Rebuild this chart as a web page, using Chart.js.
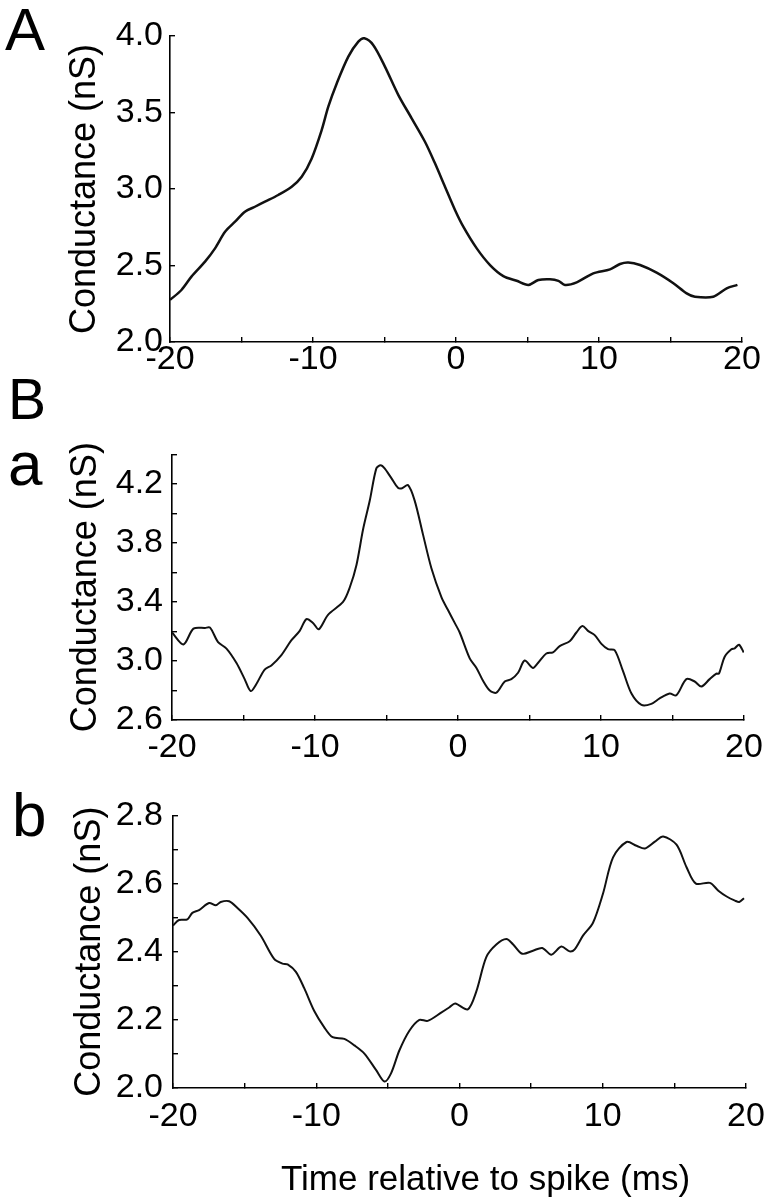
<!DOCTYPE html>
<html><head><meta charset="utf-8">
<script src="https://cdn.jsdelivr.net/npm/chart.js@4.4.1/dist/chart.umd.min.js"></script>
<style>
html,body{margin:0;padding:0;background:#fff;}
#wrap{position:relative;width:778px;height:1200px;background:#fff;}
canvas{position:absolute;left:0;}
</style></head><body>
<div id="wrap">
<canvas id="cA" width="778" height="420" style="top:0px"></canvas>
<canvas id="cBa" width="778" height="360" style="top:420px"></canvas>
<canvas id="cBb" width="778" height="420" style="top:780px"></canvas>
</div>
<script>
// ---- Panel A ----
const timeA = [-20.0,-19.2,-18.5,-17.55,-16.85,-16.15,-15.45,-14.76,-14.06,-13.36,-12.43,-11.49,-10.79,-10.09,-9.39,-8.93,-8.34,-7.53,-6.83,-6.41,-5.78,-4.97,-4.03,-3.10,-2.17,-1.47,-0.77,-0.07,0.51,1.45,2.38,3.31,4.24,5.06,5.76,6.57,7.16,7.62,8.44,9.60,10.77,11.47,12.05,12.87,14.03,15.20,16.13,16.71,17.99,18.93,19.68];
const condA = [2.275,2.34,2.427,2.525,2.612,2.72,2.786,2.852,2.884,2.917,2.961,3.015,3.08,3.20,3.386,3.538,3.69,3.865,3.963,3.985,3.94,3.80,3.614,3.462,3.309,3.168,3.015,2.863,2.754,2.612,2.503,2.431,2.40,2.373,2.405,2.41,2.40,2.373,2.39,2.449,2.475,2.51,2.52,2.503,2.453,2.384,2.318,2.296,2.296,2.351,2.373];

// ---- Panel B a ----
const timeBa = [-20.0,-19.2,-18.5,-17.69,-17.34,-16.78,-16.19,-15.49,-14.92,-14.5,-14.1,-13.52,-13.05,-12.35,-11.66,-11.07,-10.6,-10.14,-9.74,-9.09,-8.04,-7.57,-7.1,-6.64,-6.17,-5.71,-5.41,-5.13,-4.66,-4.2,-3.91,-3.5,-3.03,-2.45,-1.86,-1.16,-0.7,-0.23,0.12,0.82,1.29,1.75,2.22,2.69,3.27,3.73,4.2,4.66,5.24,5.59,6.18,6.64,7.11,7.81,8.28,8.7,9.09,9.56,10.03,10.49,10.96,11.54,12.13,12.83,13.52,14.1,14.8,15.27,15.97,16.55,17.02,17.6,18.07,18.25,18.65,19.12,19.35,19.65,19.98];
const condBa = [3.193,3.112,3.219,3.224,3.226,3.128,3.084,2.986,2.877,2.796,2.844,2.942,2.97,3.04,3.139,3.204,3.284,3.258,3.215,3.313,3.40,3.498,3.651,3.891,4.087,4.305,4.326,4.305,4.239,4.174,4.17,4.192,4.087,3.858,3.629,3.433,3.345,3.258,3.193,3.018,2.953,2.866,2.80,2.785,2.861,2.877,2.92,3.003,2.953,2.986,3.051,3.058,3.101,3.134,3.193,3.237,3.204,3.175,3.116,3.08,3.073,2.931,2.779,2.702,2.709,2.746,2.779,2.768,2.877,2.861,2.827,2.877,2.914,2.914,3.029,3.08,3.086,3.11,3.058];

// ---- Panel B b ----
const timeBb = [-20.0,-19.58,-19.0,-18.65,-18.18,-17.48,-17.01,-16.67,-16.08,-15.5,-14.8,-13.87,-12.94,-12.36,-12.0,-11.42,-10.84,-10.14,-9.44,-8.86,-8.04,-7.34,-6.64,-5.83,-5.24,-4.78,-4.2,-3.5,-2.8,-2.22,-1.28,-0.7,-0.3,0.58,1.17,1.87,2.57,3.27,3.73,4.38,5.13,5.78,6.41,7.11,7.69,8.04,8.62,9.32,10.02,10.72,11.66,12.36,12.94,13.64,14.22,15.15,15.85,16.5,17.48,18.07,18.65,19.23,19.53,19.86];
const condBb = [2.477,2.493,2.495,2.514,2.522,2.543,2.536,2.546,2.548,2.528,2.499,2.447,2.379,2.365,2.363,2.341,2.293,2.226,2.178,2.149,2.144,2.125,2.101,2.053,2.019,2.043,2.11,2.168,2.20,2.197,2.221,2.237,2.248,2.231,2.283,2.384,2.421,2.437,2.422,2.394,2.403,2.411,2.391,2.415,2.401,2.407,2.447,2.485,2.571,2.677,2.722,2.711,2.703,2.723,2.738,2.714,2.648,2.60,2.602,2.579,2.562,2.55,2.546,2.557];

// ---- tick labels ----
const xTickLabels = [-20, -10, 0, 10, 20];
const yTickLabelsA = [2.0, 2.5, 3.0, 3.5, 4.0];
const yTickLabelsBa = [2.6, 3.0, 3.4, 3.8, 4.2];
const yTickLabelsBb = [2.0, 2.2, 2.4, 2.6, 2.8];

const yTitle = 'Conductance (nS)';
const xTitle = 'Time relative to spike (ms)';

const FAMILY = '"Liberation Sans", Arial, Helvetica, sans-serif';

const textPlugin = {
  id: 'extraText',
  afterDraw(chart, args, opts) {
    const ctx = chart.ctx;
    (opts.items || []).forEach(it => {
      ctx.save();
      ctx.font = it.font;
      ctx.fillStyle = '#000';
      ctx.textAlign = it.align || 'left';
      ctx.textBaseline = 'alphabetic';
      ctx.fillText(it.text, it.x, it.y);
      ctx.restore();
    });
  }
};

function labelIn(list, v, fmt) {
  for (const l of list) { if (Math.abs(l - v) < 1e-6) return fmt(l); }
  return '';
}

function makeChart(id, xs, ys, cfg) {
  const pts = xs.map((x, i) => ({x: x, y: ys[i]}));
  return new Chart(document.getElementById(id), {
    type: 'line',
    data: { datasets: [{ data: pts, borderColor: '#111', borderWidth: cfg.lw, pointRadius: 0, tension: 0.3, fill: false }] },
    plugins: [textPlugin],
    options: {
      responsive: false, animation: false, devicePixelRatio: 1,
      events: [],
      layout: { padding: cfg.pad },
      plugins: { legend: { display: false }, tooltip: { enabled: false }, extraText: { items: cfg.texts } },
      scales: {
        x: {
          type: 'linear', min: -20, max: 20,
          afterFit: s => { s.height = cfg.xh; },
          border: { display: true, color: '#000', width: 1.6 },
          grid: { drawOnChartArea: false, drawTicks: true, tickLength: -5, color: '#000', lineWidth: 1.4 },
          ticks: { stepSize: 5, autoSkip: false, maxRotation: 0, padding: cfg.xpad, color: '#000',
                   font: { family: FAMILY, size: 34 },
                   callback: v => labelIn(xTickLabels, v, l => String(l)) },
          title: { display: false }
        },
        y: {
          type: 'linear', min: cfg.ymin, max: cfg.ymax,
          afterFit: s => { s.width = cfg.yw; },
          border: { display: true, color: '#000', width: 1.6 },
          grid: { drawOnChartArea: false, drawTicks: true, tickLength: -5, color: '#000', lineWidth: 1.4 },
          ticks: { stepSize: cfg.ystep, autoSkip: false, padding: cfg.ypad, color: '#000',
                   font: { family: FAMILY, size: 34 },
                   callback: v => labelIn(cfg.ylabels, v, l => l.toFixed(1)) },
          title: { display: true, text: yTitle, color: '#000', font: { family: FAMILY, size: 36 },
                   padding: { top: cfg.ytp, bottom: 0 } }
        }
      }
    }
  });
}

makeChart('cA', timeA, condA, {
  lw: 2.5, pad: { left: 0, right: 36, top: 36, bottom: 0 }, xh: 78, yw: 170,
  xpad: 2, ypad: 12, ymin: 2.0, ymax: 4.0, ystep: 0.5, ylabels: yTickLabelsA, ytp: 63,
  texts: [
    { text: 'A', x: 5, y: 50, font: '60px ' + FAMILY },
    { text: 'B', x: 8, y: 419, font: '57px ' + FAMILY }
  ]
});

makeChart('cBa', timeBa, condBa, {
  lw: 2, pad: { left: 0, right: 34, top: 25, bottom: 0 }, xh: 60, yw: 172,
  xpad: 12, ypad: 14, ymin: 2.6, ymax: 4.4, ystep: 0.2, ylabels: yTickLabelsBa, ytp: 64,
  texts: [
    { text: 'a', x: 8, y: 65, font: '62px ' + FAMILY }
  ]
});

makeChart('cBb', timeBb, condBb, {
  lw: 2, pad: { left: 0, right: 32, top: 31, bottom: 0 }, xh: 112, yw: 173,
  xpad: 13, ypad: 15, ymin: 2.0, ymax: 2.8, ystep: 0.1, ylabels: yTickLabelsBb, ytp: 68,
  texts: [
    { text: 'b', x: 12, y: 56, font: '62px ' + FAMILY },
    { text: xTitle, x: 281, y: 410, font: '35px ' + FAMILY }
  ]
});
</script>
</body></html>
